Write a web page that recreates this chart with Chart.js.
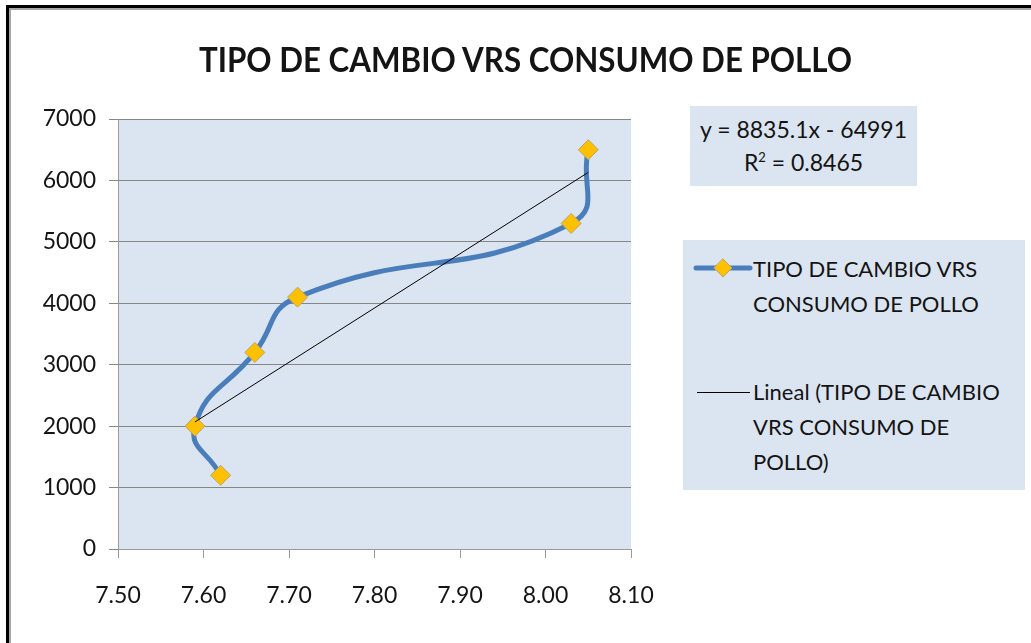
<!DOCTYPE html>
<html>
<head>
<meta charset="utf-8">
<script src="https://cdn.jsdelivr.net/npm/chart.js@4.4.1/dist/chart.umd.min.js"></script>
<style>
  html, body { margin: 0; padding: 0; background: #fff; }
  #wrap { position: relative; width: 1031px; height: 643px; overflow: hidden; font-family: Lato, "Open Sans", sans-serif; color: #141414; }
  #chart { position: absolute; left: 0; top: 0; }
  .frame1 { position: absolute; left: 6px; top: 5px; width: 1100px; height: 700px; border-left: 3px solid #000; border-top: 3px solid #000; }
  .frame2 { position: absolute; left: 9px; top: 8px; width: 1100px; height: 700px; border-left: 2px solid #a6a6a6; border-top: 2px solid #a6a6a6; }
  #title { position: absolute; left: 0; width: 1051px; top: 37px; text-align: center; font-weight: bold; font-size: 34px; line-height: 44px; white-space: nowrap; transform: scaleX(0.92); }
  .box { position: absolute; background: #dbe5f1; }
  #eq { left: 690px; top: 106px; width: 227px; height: 80px; text-align: center; font-size: 23px; line-height: 33px; padding-top: 7px; box-sizing: border-box; }
  #eq sup { font-size: 13px; vertical-align: 9px; line-height: 0; }
  #legend { left: 683px; top: 240px; width: 342px; height: 250px; font-size: 22px; line-height: 35px; }
  .item { position: absolute; left: 70px; white-space: nowrap; }
  .swatch { position: absolute; }
</style>
</head>
<body>
<div id="wrap">
  <div class="frame1"></div>
  <div class="frame2"></div>
  <canvas id="chart" width="1031" height="643"></canvas>
  <div id="title">TIPO DE CAMBIO VRS CONSUMO DE POLLO</div>
  <div id="eq" class="box">y = 8835.1x - 64991<br>R<sup>2</sup> = 0.8465</div>
  <div id="legend" class="box">
    <canvas class="swatch" id="sw1" width="60" height="24" style="left:10px;top:16px"></canvas>
    <div class="item" style="top:11px">TIPO DE CAMBIO VRS<br>CONSUMO DE POLLO</div>
    <canvas class="swatch" id="sw2" width="60" height="24" style="left:10px;top:140px"></canvas>
    <div class="item" style="top:134px">Lineal (TIPO DE CAMBIO<br>VRS CONSUMO DE<br>POLLO)</div>
  </div>
</div>
<script>
// datos
const tipoCambio = [7.62, 7.59, 7.66, 7.71, 8.03, 8.05];
const consumoPollo = [1200, 2000, 3200, 4100, 5300, 6500];
// linea de tendencia (extremos)
const tendX = [7.59, 8.05];
const tendY = [2068, 6131];
const xTicks = [7.5, 7.6, 7.7, 7.8, 7.9, 8.0, 8.1];
const yTicks = [0, 1000, 2000, 3000, 4000, 5000, 6000, 7000];

const serie = tipoCambio.map((x, i) => ({ x: x, y: consumoPollo[i] }));
const tendencia = tendX.map((x, i) => ({ x: x, y: tendY[i] }));

// fondo del area de trazado
const fondoPlot = {
  id: 'fondoPlot',
  beforeDraw(chart) {
    const { ctx, chartArea: a } = chart;
    ctx.save();
    ctx.fillStyle = '#dbe5f1';
    ctx.fillRect(a.left, a.top, a.right - a.left, a.bottom - a.top);
    ctx.restore();
  }
};

new Chart(document.getElementById('chart').getContext('2d'), {
  type: 'scatter',
  data: {
    datasets: [
      {
        label: 'TIPO DE CAMBIO VRS CONSUMO DE POLLO',
        data: serie,
        showLine: true,
        tension: 0.5,
        borderColor: '#4a7ebb',
        borderWidth: 5,
        pointStyle: 'rectRot',
        pointRadius: 10,
        pointBackgroundColor: '#ffc000',
        pointBorderColor: '#b9a46a',
        pointBorderWidth: 1,
        order: 1
      },
      {
        label: 'Lineal (TIPO DE CAMBIO VRS CONSUMO DE POLLO)',
        data: tendencia,
        showLine: true,
        borderColor: '#000',
        borderWidth: 1,
        pointRadius: 0,
        order: 0
      }
    ]
  },
  options: {
    responsive: false,
    animation: false,
    layout: { padding: { left: 0, top: 119, right: 400, bottom: 0 } },
    plugins: {
      legend: { display: false },
      title: { display: false },
      tooltip: { enabled: false }
    },
    scales: {
      x: {
        type: 'linear',
        min: 7.5,
        max: 8.1,
        afterBuildTicks: s => { s.ticks = xTicks.map(v => ({ value: v })); },
        afterFit: s => { s.height = 94; },
        ticks: {
          padding: 24,
          color: '#141414',
          font: { family: 'Lato', size: 23 },
          callback: v => Number(v).toFixed(2)
        },
        grid: { drawOnChartArea: false, drawTicks: true, tickLength: 9, color: '#9a9a9a' },
        border: { display: true, color: '#9a9a9a' }
      },
      y: {
        type: 'linear',
        min: 0,
        max: 7000,
        afterBuildTicks: s => { s.ticks = yTicks.map(v => ({ value: v })); },
        afterFit: s => { s.width = 118; },
        ticks: {
          padding: 13,
          color: '#141414',
          font: { family: 'Lato', size: 23 },
          callback: v => String(v)
        },
        grid: { color: '#868686', tickLength: 9, drawTicks: true },
        border: { display: true, color: '#9a9a9a' }
      }
    }
  },
  plugins: [fondoPlot]
});

// muestras de la leyenda
(function () {
  const c1 = document.getElementById('sw1').getContext('2d');
  c1.strokeStyle = '#4a7ebb';
  c1.lineWidth = 5;
  c1.lineCap = 'round';
  c1.beginPath(); c1.moveTo(3, 12); c1.lineTo(57, 12); c1.stroke();
  c1.fillStyle = '#ffc000';
  c1.strokeStyle = '#b9a46a';
  c1.lineWidth = 1;
  c1.beginPath(); c1.moveTo(30, 3); c1.lineTo(39, 12); c1.lineTo(30, 21); c1.lineTo(21, 12); c1.closePath();
  c1.fill(); c1.stroke();
  const c2 = document.getElementById('sw2').getContext('2d');
  c2.strokeStyle = '#000';
  c2.lineWidth = 1;
  c2.beginPath(); c2.moveTo(4, 12.5); c2.lineTo(57, 12.5); c2.stroke();
})();
</script>
</body>
</html>
